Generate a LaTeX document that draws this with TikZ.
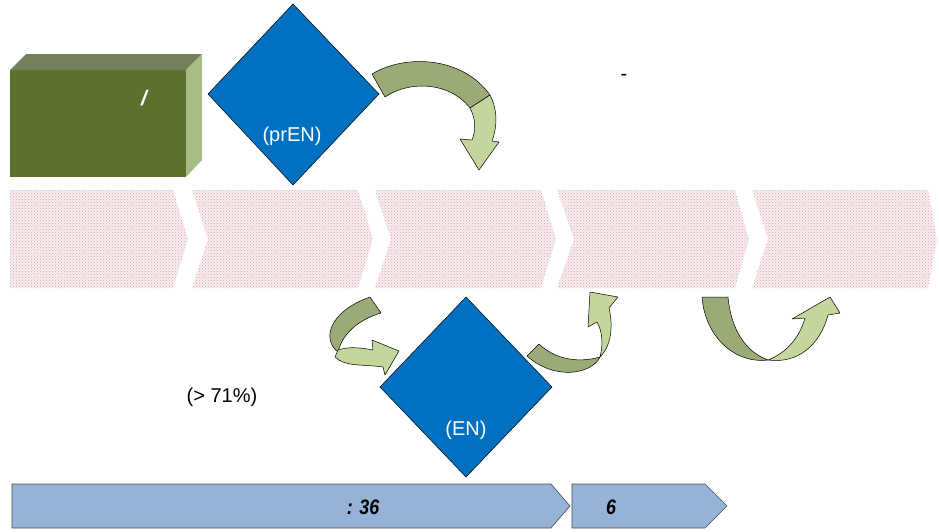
\documentclass[tikz,border=0pt]{standalone}
\usepackage{fontspec}
\setmainfont{Liberation Sans}
\newfontfamily\narrowfont{Liberation Sans}[FakeStretch=0.85]
\usetikzlibrary{patterns}
\definecolor{diablue}{HTML}{0070C0}
\definecolor{boxfront}{HTML}{5D712E}
\definecolor{boxtop}{HTML}{748059}
\definecolor{boxside}{HTML}{A8BD84}
\definecolor{ardark}{HTML}{9BAB78}
\definecolor{arlight}{HTML}{C3D69B}
\definecolor{barblue}{HTML}{95B3D7}
\definecolor{chevfill}{HTML}{F9EEF0}
\definecolor{chevdot}{HTML}{D9A3AC}
\begin{document}
\begin{tikzpicture}[x=1pt,y=-1pt,
  chevbg/.style={fill=chevfill},
  chevpat/.style={pattern=crosshatch dots, pattern color=chevdot},
  diabox/.style={fill=diablue, draw=black, line width=0.5pt},
  arrdark/.style={fill=ardark, draw=black, line width=0.5pt, line join=round},
  arrlight/.style={fill=arlight, draw=black, line width=0.5pt, line join=round},
  barbox/.style={fill=barblue, draw=black!70, line width=0.6pt},
  wtext/.style={text=white, font=\fontsize{20}{23}\selectfont, inner sep=0pt},
  btext/.style={text=black, font=\fontsize{20}{23}\selectfont, inner sep=0pt},
  bartext/.style={text=black, font=\narrowfont\bfseries\itshape\fontsize{21}{24}\selectfont, inner sep=0pt}]
\useasboundingbox (0,0) rectangle (939,531);

% chevrons
\foreach \p in {
  {(10,190) -- (173,190) -- (188,239) -- (173,288) -- (10,288) -- cycle},
  {(192,190) -- (358,190) -- (373,239) -- (358,288) -- (192,288) -- (208,239) -- cycle},
  {(375,190) -- (541,190) -- (556,239) -- (541,288) -- (375,288) -- (391,239) -- cycle},
  {(557,190) -- (735,190) -- (749,239) -- (735,288) -- (557,288) -- (574,239) -- cycle},
  {(752,190) -- (928,190) -- (937,239) -- (928,288) -- (752,288) -- (768,239) -- cycle}}
{
  \fill[chevbg] \p;
  \fill[chevpat] \p;
}

% green box
\fill[boxfront] (10,70) rectangle (186,177);
\fill[boxtop] (10,70) -- (26,54) -- (202,54) -- (186,70) -- cycle;
\fill[boxside] (186,70) -- (202,54) -- (202,160) -- (186,177) -- cycle;
\node[wtext, font=\bfseries\itshape\fontsize{21}{23}\selectfont] (slash) at (144,98) {/};

% diamonds
\draw[diabox] (293,4) -- (379,94) -- (293,185) -- (208,94) -- cycle;
\node[wtext] (pren) at (292,136) {(prEN)};
\draw[diabox] (466,297) -- (552,387) -- (466,477) -- (380,387) -- cycle;
\node[wtext] (en) at (466,430) {(EN)};

% curved arrow A (top)
\draw[arrdark] (372,74) .. controls (405,54) and (462,56) .. (490,95)
  -- (470,108) .. controls (450,82) and (410,80) .. (385,97) -- cycle;
\draw[arrlight] (470,108) .. controls (476,120) and (476,130) .. (472,140)
  -- (460,139) -- (479,170) -- (499,142) -- (492,141)
  .. controls (498,125) and (497,108) .. (490,95) -- cycle;

% curved arrow B (left of EN)
\draw[arrdark] (370,297) -- (381,313) .. controls (357,320) and (342,335) .. (338,352)
  .. controls (322,340) and (328,312) .. (370,297) -- cycle;
\draw[arrlight] (338,350) .. controls (350,346) and (362,348) .. (373,350)
  -- (372,340) -- (399,351) -- (385,375) -- (383,367)
  .. controls (362,364) and (345,367) .. (335,357) -- cycle;

% curved arrow C (right of EN)
\draw[arrdark] (527,356) -- (539,344) .. controls (558,362) and (583,362) .. (600,357)
  .. controls (592,374) and (555,381) .. (527,356) -- cycle;
\draw[arrlight] (597,322) -- (588,327) -- (590,292) -- (618,297) -- (609,308)
  .. controls (613,325) and (612,345) .. (600,357)
  .. controls (603,345) and (603,333) .. (597,322) -- cycle;

% curved arrow D (right)
\draw[arrdark] (702,297) -- (728,297) .. controls (731,330) and (746,352) .. (768,360)
  .. controls (735,364) and (705,337) .. (702,297) -- cycle;
\draw[arrlight] (768,360) .. controls (788,352) and (800,336) .. (805,318)
  -- (792,319) -- (830,297) -- (840,313) -- (828,315)
  .. controls (820,345) and (798,364) .. (768,360) -- cycle;

% texts
\node[btext] (dash) at (624,77) {-};
\node[btext] (pct) at (222,397) {(> 71\%)};

% bottom bars
\draw[barbox] (12,484) -- (551,484) -- (570,506) -- (551,528) -- (12,528) -- cycle;
\node[bartext] (t36) at (363,507) {: 36};
\draw[barbox] (572,484) -- (705,484) -- (727,506) -- (705,528) -- (572,528) -- cycle;
\node[bartext] (t6) at (611,507) {6};
\end{tikzpicture}
\end{document}
